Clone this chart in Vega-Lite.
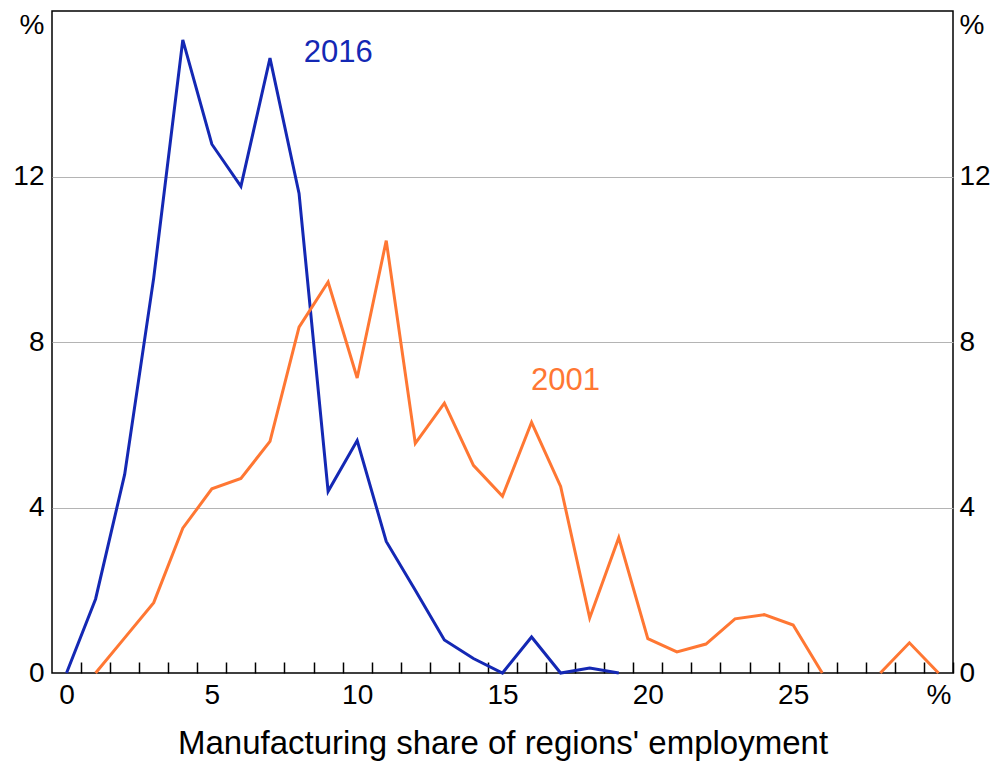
{
  "$schema": "https://vega.github.io/schema/vega-lite/v6.json",
  "width": 901,
  "height": 662,
  "autosize": "none",
  "padding": {"left": 52, "top": 11, "right": 41, "bottom": 92},
  "background": "white",
  "config": {
    "font": "Liberation Sans",
    "view": {"stroke": "black", "strokeWidth": 1.5},
    "axis": {"labelFont": "Liberation Sans", "titleFont": "Liberation Sans", "labelColor": "black", "titleColor": "black", "labelFontSize": 28, "titleFontSize": 33, "titleFontWeight": "normal"}
  },
  "datasets": {
    "lines": [
      {"share": 0, "pct": 0, "year": "2016"},
      {"share": 1, "pct": 1.79, "year": "2016"},
      {"share": 2, "pct": 4.8, "year": "2016"},
      {"share": 3, "pct": 9.55, "year": "2016"},
      {"share": 4, "pct": 15.3, "year": "2016"},
      {"share": 5, "pct": 12.78, "year": "2016"},
      {"share": 6, "pct": 11.76, "year": "2016"},
      {"share": 7, "pct": 14.86, "year": "2016"},
      {"share": 8, "pct": 11.59, "year": "2016"},
      {"share": 9, "pct": 4.39, "year": "2016"},
      {"share": 10, "pct": 5.62, "year": "2016"},
      {"share": 11, "pct": 3.18, "year": "2016"},
      {"share": 12, "pct": 2.0, "year": "2016"},
      {"share": 13, "pct": 0.8, "year": "2016"},
      {"share": 14, "pct": 0.35, "year": "2016"},
      {"share": 15, "pct": 0, "year": "2016"},
      {"share": 16, "pct": 0.87, "year": "2016"},
      {"share": 17, "pct": 0, "year": "2016"},
      {"share": 18, "pct": 0.12, "year": "2016"},
      {"share": 19, "pct": 0, "year": "2016"},
      {"share": 1, "pct": 0, "year": "2001"},
      {"share": 2, "pct": 0.85, "year": "2001"},
      {"share": 3, "pct": 1.7, "year": "2001"},
      {"share": 4, "pct": 3.5, "year": "2001"},
      {"share": 5, "pct": 4.45, "year": "2001"},
      {"share": 6, "pct": 4.7, "year": "2001"},
      {"share": 7, "pct": 5.6, "year": "2001"},
      {"share": 8, "pct": 8.36, "year": "2001"},
      {"share": 9, "pct": 9.45, "year": "2001"},
      {"share": 10, "pct": 7.13, "year": "2001"},
      {"share": 11, "pct": 10.45, "year": "2001"},
      {"share": 12, "pct": 5.55, "year": "2001"},
      {"share": 13, "pct": 6.52, "year": "2001"},
      {"share": 14, "pct": 5.02, "year": "2001"},
      {"share": 15, "pct": 4.27, "year": "2001"},
      {"share": 16, "pct": 6.06, "year": "2001"},
      {"share": 17, "pct": 4.51, "year": "2001"},
      {"share": 18, "pct": 1.33, "year": "2001"},
      {"share": 19, "pct": 3.27, "year": "2001"},
      {"share": 20, "pct": 0.83, "year": "2001"},
      {"share": 21, "pct": 0.51, "year": "2001"},
      {"share": 22, "pct": 0.7, "year": "2001"},
      {"share": 23, "pct": 1.31, "year": "2001"},
      {"share": 24, "pct": 1.41, "year": "2001"},
      {"share": 25, "pct": 1.16, "year": "2001"},
      {"share": 26, "pct": 0, "year": "2001"},
      {"share": 27, "pct": null, "year": "2001"},
      {"share": 28, "pct": 0, "year": "2001"},
      {"share": 29, "pct": 0.73, "year": "2001"},
      {"share": 30, "pct": 0, "year": "2001"}
    ],
    "labels": [
      {"share": 9.35, "pct": 14.98, "year": "2016"},
      {"share": 17.17, "pct": 7.05, "year": "2001"}
    ]
  },
  "resolve": {"axis": {"y": "independent"}},
  "layer": [
    {
      "data": {"name": "lines"},
      "mark": {"type": "line", "strokeWidth": 3, "invalid": "break-paths-show-domains"},
      "encoding": {
        "x": {
          "field": "share", "type": "quantitative",
          "scale": {"domain": [-0.5, 30.5], "nice": false, "zero": false},
          "axis": {
            "orient": "bottom",
            "values": [0,1,2,3,4,5,6,7,8,9,10,11,12,13,14,15,16,17,18,19,20,21,22,23,24,25,26,27,28,29,30],
            "tickCount": 60,
            "format": "d",
            "labelExpr": "datum.value == 30 ? '%' : (datum.value % 5 == 0 ? datum.label : '')",
            "tickOffset": 14.5,
            "labelOffset": -14.5,
            "tickSize": -11,
            "tickColor": "black",
            "tickWidth": 1.5,
            "labelPadding": 19,
            "labelFlush": false,
            "labelOverlap": false,
            "labelBound": false,
            "grid": false,
            "domain": false,
            "title": "Manufacturing share of regions' employment",
            "titlePadding": 18
          }
        },
        "y": {
          "field": "pct", "type": "quantitative",
          "scale": {"domain": [0, 16], "nice": false},
          "axis": {
            "orient": "left",
            "values": [0, 4, 8, 12, 16],
            "labelExpr": "datum.value == 16 ? '%' : datum.label",
            "labelBaseline": {"condition": {"test": "datum.value == 16", "value": "top"}, "value": "middle"},
            "ticks": false,
            "domain": false,
            "labelPadding": 8,
            "grid": true,
            "gridColor": {"condition": {"test": "datum.value == 0 || datum.value == 16", "value": "transparent"}, "value": "#b4b4b4"},
            "gridWidth": 1.2,
            "title": null
          }
        },
        "color": {
          "field": "year", "type": "nominal",
          "scale": {"domain": ["2001", "2016"], "range": ["#ff7733", "#1428b4"]},
          "legend": null
        }
      }
    },
    {
      "data": {"name": "labels"},
      "mark": {"type": "text", "fontSize": 31, "font": "Liberation Sans"},
      "encoding": {
        "x": {"field": "share", "type": "quantitative"},
        "y": {
          "field": "pct", "type": "quantitative",
          "axis": {
            "orient": "right",
            "values": [0, 4, 8, 12, 16],
            "labelExpr": "datum.value == 16 ? '%' : datum.label",
            "labelBaseline": {"condition": {"test": "datum.value == 16", "value": "top"}, "value": "middle"},
            "ticks": false,
            "domain": false,
            "labelPadding": 6,
            "grid": false,
            "title": null
          }
        },
        "text": {"field": "year"},
        "color": {"field": "year", "type": "nominal", "legend": null}
      }
    }
  ]
}
